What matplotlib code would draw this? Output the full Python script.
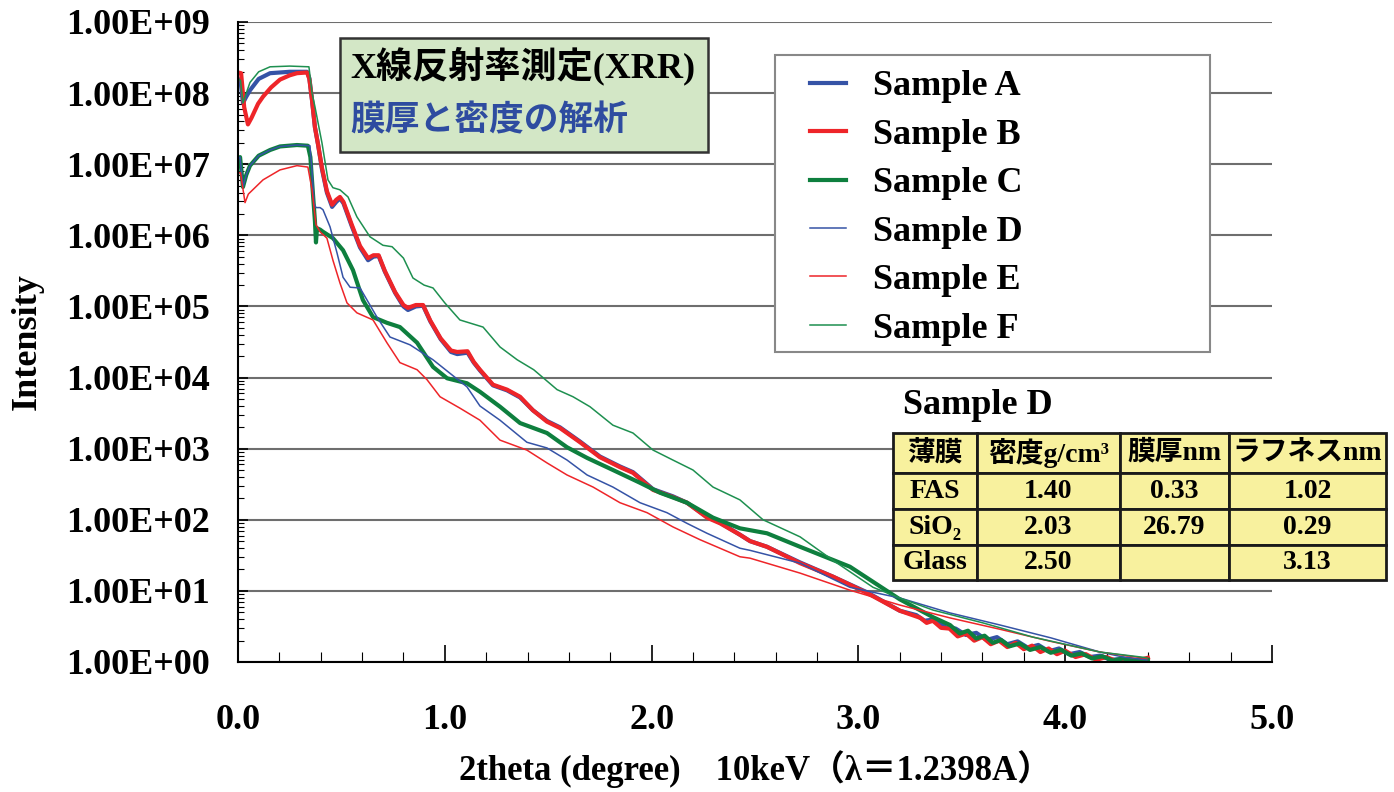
import matplotlib
matplotlib.use("Agg")
import matplotlib.pyplot as plt
import numpy as np
from matplotlib.patches import Rectangle
from matplotlib.ticker import LogLocator, MultipleLocator, FuncFormatter, NullFormatter

# (2theta, log10 intensity)
sample_a = [(0.000, 8.20), (0.012, 8.18), (0.024, 7.86), (0.040, 7.95), (0.058, 8.04), (0.100, 8.20),
            (0.155, 8.28), (0.250, 8.30), (0.334, 8.30), (0.345, 8.21), (0.358, 7.90), (0.372, 7.52),
            (0.387, 7.28), (0.406, 6.93), (0.430, 6.60), (0.455, 6.40), (0.475, 6.47), (0.493, 6.52),
            (0.510, 6.45), (0.550, 6.13), (0.590, 5.83), (0.629, 5.65), (0.655, 5.70), (0.680, 5.71),
            (0.710, 5.49), (0.760, 5.19), (0.800, 5.00), (0.822, 4.95), (0.860, 5.00), (0.895, 5.01),
            (0.930, 4.79), (0.980, 4.54), (1.030, 4.36), (1.060, 4.33), (1.110, 4.35), (1.140, 4.21),
            (1.170, 4.10), (1.233, 3.89), (1.301, 3.82), (1.364, 3.72), (1.426, 3.54), (1.494, 3.39),
            (1.557, 3.30), (1.654, 3.10), (1.750, 2.89), (1.847, 2.75), (1.910, 2.67), (2.007, 2.43),
            (2.103, 2.33), (2.171, 2.24), (2.268, 2.04), (2.331, 1.96), (2.427, 1.79), (2.476, 1.70),
            (2.558, 1.62), (2.718, 1.40), (2.877, 1.20), (3.042, 0.98), (3.201, 0.72), (3.280, 0.66),
            (3.320, 0.58), (3.370, 0.60), (3.420, 0.49), (3.470, 0.47), (3.520, 0.38), (3.570, 0.41),
            (3.620, 0.31), (3.670, 0.35), (3.720, 0.25), (3.770, 0.29), (3.820, 0.20), (3.870, 0.24),
            (3.920, 0.15), (3.970, 0.19), (4.020, 0.11), (4.070, 0.14), (4.120, 0.07), (4.170, 0.09),
            (4.220, 0.03), (4.260, 0.04), (4.290, 0.00)]

sample_b = [(0.000, 8.29), (0.015, 8.28), (0.030, 7.80), (0.048, 7.56), (0.065, 7.65), (0.097, 7.85),
            (0.121, 7.95), (0.160, 8.08), (0.203, 8.19), (0.250, 8.25), (0.285, 8.28), (0.334, 8.29),
            (0.345, 8.20), (0.358, 7.90), (0.372, 7.52), (0.387, 7.28), (0.406, 6.95), (0.430, 6.62),
            (0.455, 6.43), (0.475, 6.50), (0.493, 6.54), (0.510, 6.47), (0.550, 6.15), (0.590, 5.85),
            (0.629, 5.68), (0.655, 5.72), (0.680, 5.72), (0.710, 5.50), (0.760, 5.20), (0.800, 5.02),
            (0.822, 4.98), (0.860, 5.02), (0.895, 5.02), (0.930, 4.80), (0.980, 4.55), (1.030, 4.38),
            (1.060, 4.36), (1.110, 4.37), (1.140, 4.22), (1.170, 4.11), (1.233, 3.90), (1.301, 3.83),
            (1.364, 3.73), (1.426, 3.54), (1.494, 3.38), (1.557, 3.29), (1.654, 3.09), (1.750, 2.88),
            (1.847, 2.74), (1.910, 2.66), (2.007, 2.42), (2.103, 2.32), (2.171, 2.24), (2.268, 2.03),
            (2.331, 1.95), (2.427, 1.79), (2.476, 1.70), (2.558, 1.62), (2.718, 1.39), (2.877, 1.20),
            (3.042, 0.97), (3.201, 0.72), (3.300, 0.62), (3.330, 0.55), (3.360, 0.58), (3.400, 0.48),
            (3.440, 0.47), (3.480, 0.36), (3.520, 0.40), (3.560, 0.30), (3.600, 0.35), (3.640, 0.25),
            (3.680, 0.30), (3.720, 0.21), (3.760, 0.27), (3.800, 0.18), (3.840, 0.23), (3.880, 0.14),
            (3.920, 0.19), (3.960, 0.11), (4.000, 0.16), (4.050, 0.07), (4.100, 0.11), (4.150, 0.03),
            (4.200, 0.07), (4.250, 0.01), (4.300, 0.05), (4.350, 0.02), (4.400, 0.06)]

sample_c = [(0.000, 7.05), (0.010, 7.10), (0.024, 6.68), (0.040, 6.85), (0.058, 6.98), (0.100, 7.12),
            (0.155, 7.20), (0.203, 7.25), (0.285, 7.27), (0.338, 7.26), (0.350, 7.10), (0.362, 6.60),
            (0.372, 6.20), (0.377, 5.90), (0.382, 6.10), (0.397, 6.08), (0.411, 6.05), (0.459, 5.96),
            (0.508, 5.79), (0.556, 5.51), (0.604, 5.09), (0.653, 4.85), (0.720, 4.77), (0.783, 4.71),
            (0.866, 4.49), (0.943, 4.15), (1.011, 3.99), (1.107, 3.92), (1.170, 3.80), (1.267, 3.59),
            (1.364, 3.36), (1.494, 3.22), (1.591, 3.02), (1.688, 2.87), (1.813, 2.70), (1.944, 2.52),
            (2.041, 2.38), (2.171, 2.24), (2.297, 2.03), (2.427, 1.88), (2.558, 1.81), (2.718, 1.62),
            (2.959, 1.34), (3.201, 0.88), (3.361, 0.63), (3.443, 0.52), (3.490, 0.40), (3.530, 0.44),
            (3.570, 0.33), (3.610, 0.37), (3.650, 0.27), (3.690, 0.31), (3.730, 0.22), (3.780, 0.26),
            (3.830, 0.17), (3.880, 0.21), (3.930, 0.13), (3.980, 0.17), (4.030, 0.09), (4.080, 0.12),
            (4.130, 0.05), (4.180, 0.08), (4.230, 0.02), (4.280, 0.05), (4.330, 0.01), (4.400, 0.03)]

sample_d = [(0.000, 7.08), (0.010, 7.10), (0.024, 6.68), (0.040, 6.85), (0.058, 6.98), (0.100, 7.12),
            (0.155, 7.20), (0.203, 7.25), (0.285, 7.27), (0.348, 7.26), (0.358, 6.90), (0.368, 6.45),
            (0.377, 6.39), (0.397, 6.39), (0.411, 6.36), (0.445, 6.12), (0.479, 5.75), (0.508, 5.41),
            (0.542, 5.27), (0.590, 5.26), (0.624, 5.09), (0.672, 4.85), (0.735, 4.57), (0.832, 4.46),
            (0.943, 4.25), (1.025, 4.06), (1.107, 3.87), (1.170, 3.60), (1.267, 3.40), (1.397, 3.09),
            (1.494, 3.01), (1.591, 2.84), (1.688, 2.63), (1.813, 2.46), (1.944, 2.24), (2.074, 2.10),
            (2.171, 1.95), (2.268, 1.81), (2.427, 1.60), (2.476, 1.57), (2.718, 1.39), (2.959, 1.05),
            (3.201, 0.90), (3.443, 0.69), (3.685, 0.52), (3.930, 0.34), (4.168, 0.14), (4.280, 0.07),
            (4.395, 0.03)]

sample_e = [(0.000, 6.88), (0.012, 6.88), (0.034, 6.46), (0.050, 6.58), (0.121, 6.78), (0.203, 6.92),
            (0.285, 6.98), (0.338, 6.96), (0.358, 6.64), (0.377, 6.15), (0.397, 6.05), (0.430, 5.96),
            (0.459, 5.65), (0.493, 5.33), (0.527, 5.05), (0.575, 4.91), (0.653, 4.81), (0.720, 4.49),
            (0.783, 4.21), (0.866, 4.11), (0.914, 3.97), (0.977, 3.73), (1.073, 3.57), (1.170, 3.40),
            (1.267, 3.12), (1.397, 2.98), (1.494, 2.80), (1.591, 2.63), (1.717, 2.46), (1.847, 2.24),
            (1.978, 2.10), (2.103, 1.90), (2.234, 1.72), (2.427, 1.48), (2.476, 1.46), (2.718, 1.25),
            (2.959, 1.01), (3.201, 0.80), (3.443, 0.62), (3.685, 0.46), (3.930, 0.29), (4.168, 0.14),
            (4.395, 0.05)]

sample_f = [(0.000, 8.20), (0.012, 8.18), (0.024, 7.86), (0.040, 8.00), (0.058, 8.15), (0.100, 8.30),
            (0.155, 8.37), (0.250, 8.38), (0.343, 8.37), (0.358, 8.00), (0.372, 7.81), (0.406, 7.30),
            (0.435, 6.78), (0.459, 6.67), (0.493, 6.64), (0.532, 6.54), (0.575, 6.26), (0.638, 5.98),
            (0.701, 5.86), (0.745, 5.84), (0.800, 5.68), (0.846, 5.40), (0.900, 5.30), (0.943, 5.26),
            (1.000, 5.05), (1.073, 4.81), (1.185, 4.71), (1.267, 4.43), (1.350, 4.25), (1.430, 4.11),
            (1.543, 3.83), (1.620, 3.73), (1.702, 3.59), (1.813, 3.33), (1.910, 3.22), (2.007, 2.98),
            (2.103, 2.84), (2.200, 2.70), (2.297, 2.46), (2.427, 2.28), (2.539, 2.00), (2.718, 1.76),
            (2.877, 1.43), (3.071, 1.05), (3.201, 0.90), (3.361, 0.73), (3.602, 0.55), (3.844, 0.35),
            (4.168, 0.14), (4.395, 0.06)]

labels = ["Sample A", "Sample B", "Sample C", "Sample D", "Sample E", "Sample F"]
colors = ["#3553A6", "#EE2529", "#0E7F3E", "#3553A6", "#EE2529", "#1E9050"]
widths = [3.0, 3.0, 3.0, 1.1, 1.1, 1.1]

table_header = ["薄膜", "密度g/cm³", "膜厚nm", "ラフネスnm"]
table_rows = [["FAS", "1.40", "0.33", "1.02"],
              ["SiO₂", "2.03", "26.79", "0.29"],
              ["Glass", "2.50", "", "3.13"]]

SERIF = ["Liberation Serif", "DejaVu Serif", "Noto Sans CJK JP"]
plt.rcParams["font.family"] = SERIF
plt.rcParams["font.weight"] = "bold"

W, H = 1394, 792
fig = plt.figure(figsize=(W / 100, H / 100), dpi=100)
ax = fig.add_axes([238 / W, 1 - 662 / H, 1034 / W, 640 / H])

series = [sample_a, sample_b, sample_c, sample_d, sample_e, sample_f]
for data, lab, col, lw in zip(series, labels, colors, widths):
    xs = [p[0] for p in data]
    ys = 10 ** np.array([p[1] for p in data])
    ax.plot(xs, ys, color=col, lw=lw, label=lab, solid_joinstyle="round")

ax.set_yscale("log")
ax.set_xlim(0, 5)
ax.set_ylim(1, 1e9)
ax.yaxis.set_major_locator(LogLocator(base=10, numticks=20))
ax.yaxis.set_minor_locator(LogLocator(base=10, subs=np.arange(2, 10), numticks=200))
ax.yaxis.set_major_formatter(FuncFormatter(lambda v, p: f"{v:.2E}"))
ax.yaxis.set_minor_formatter(NullFormatter())
ax.xaxis.set_major_locator(MultipleLocator(1))
ax.xaxis.set_minor_locator(MultipleLocator(0.2))
ax.xaxis.set_major_formatter(FuncFormatter(lambda v, p: f"{v:.1f}"))

ax.tick_params(axis="y", which="major", direction="in", length=7, width=1.2, pad=20, labelsize=26)
ax.tick_params(axis="y", which="minor", direction="in", length=4, width=0.8)
ax.tick_params(axis="x", which="major", direction="in", length=12, width=1.2, pad=30, labelsize=26)
ax.tick_params(axis="x", which="minor", direction="in", length=7, width=0.8)
for lab in ax.get_xticklabels() + ax.get_yticklabels():
    lab.set_fontweight("bold")

ax.spines["top"].set_visible(False)
ax.spines["right"].set_visible(False)
ax.spines["left"].set_linewidth(1.5)
ax.spines["bottom"].set_linewidth(1.5)
ax.set_axisbelow(True)
ax.yaxis.grid(True, which="major", color="#6E6E6E", lw=1.5)

ax.set_ylabel("Intensity", fontsize=26, fontweight="bold")
ax.yaxis.set_label_coords(-0.188, 0.5)
ax.set_xlabel("2theta (degree)    10keV（λ＝1.2398A）", fontsize=25, fontweight="bold")
ax.xaxis.set_label_coords(0.5, -0.138)


def fx(px):
    return px / W


def fy(py):
    return 1 - py / H


# title box
fig.add_artist(Rectangle((fx(340), fy(152)), fx(708) - fx(340), fy(38) - fy(152),
                         transform=fig.transFigure, facecolor="#D3E7C6", edgecolor="#333333", lw=1.8))
fig.text(fx(350), fy(66), "X線反射率測定(XRR)", fontsize=26, fontweight="bold",
         color="black", va="center", ha="left")
fig.text(fx(350), fy(122), "膜厚と密度の解析", fontsize=25, fontweight="bold",
         color="#2E4CA0", va="center", ha="left")

# legend: frame drawn as a box, entries placed inside it
fig.add_artist(Rectangle((fx(775), fy(352)), fx(1210) - fx(775), fy(55) - fy(352),
                         transform=fig.transFigure, facecolor="white", edgecolor="#888888", lw=1.5))
leg = fig.legend(loc="upper left", bbox_to_anchor=(fx(810), fy(70)),
                 bbox_transform=fig.transFigure, prop={"size": 26, "weight": "bold"},
                 frameon=False, borderpad=0, labelspacing=0.42, handlelength=1.0,
                 handletextpad=0.75, borderaxespad=0)

# Sample D table
fig.text(fx(903), fy(405), "Sample D", fontsize=26, fontweight="bold", va="center", ha="left")
col_edges = [893, 977, 1120, 1229, 1386]
row_edges = [433, 473, 509, 545, 580]
cells = [table_header] + table_rows
for r in range(len(cells)):
    for c in range(len(col_edges) - 1):
        x0, x1 = col_edges[c], col_edges[c + 1]
        y0, y1 = row_edges[r], row_edges[r + 1]
        fig.add_artist(Rectangle((fx(x0), fy(y1)), fx(x1) - fx(x0), fy(y0) - fy(y1),
                                 transform=fig.transFigure, facecolor="#F8F19E",
                                 edgecolor="#1A1A1A", lw=2))
        fig.text(fx((x0 + x1) / 2), fy((y0 + y1) / 2), cells[r][c], fontsize=20,
                 fontweight="bold", ha="center", va="center")

fig.savefig("out.png", dpi=100)
